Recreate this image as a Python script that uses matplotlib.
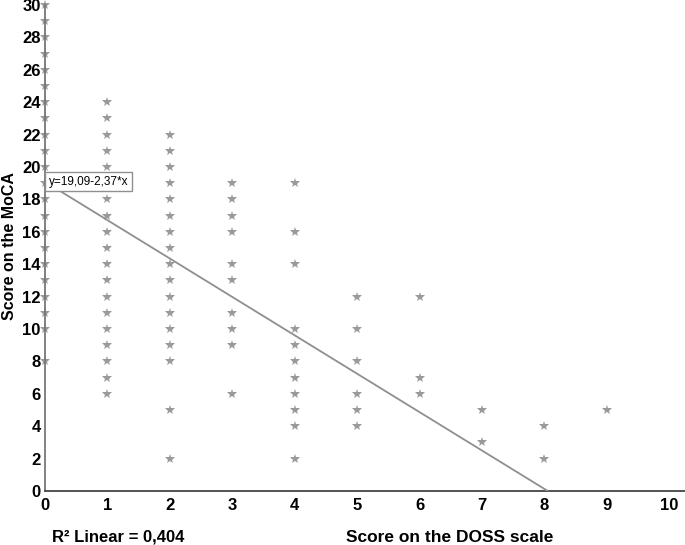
import numpy as np
import matplotlib.pyplot as plt

plt.rcParams['font.family'] = ['Liberation Sans', 'DejaVu Sans']

#Data, grouped by DOSS score
moca_by_doss = {
    0: [30, 29, 28, 27, 26, 25, 24, 23, 22, 21, 20, 19, 18, 17, 16, 15, 14, 13, 12, 11, 10, 8],
    1: [24, 23, 22, 21, 20, 19, 18, 17, 16, 15, 14, 13, 12, 11, 10, 9, 8, 7, 6],
    2: [22, 21, 20, 19, 18, 17, 16, 15, 14, 13, 12, 11, 10, 9, 8, 5, 2],
    3: [19, 18, 17, 16, 14, 13, 11, 10, 9, 6],
    4: [19, 16, 14, 10, 9, 8, 7, 6, 5, 4, 2],
    5: [12, 10, 8, 6, 5, 4],
    6: [12, 7, 6],
    7: [5, 3],
    8: [4, 2],
    9: [5],
}

intercept = 19.09
slope     = -2.37
r2_text   = '0,404'

doss = np.concatenate([[k] * len(v) for k, v in moca_by_doss.items()])
moca = np.concatenate([v for v in moca_by_doss.values()])

###Plot###
grey = '#8f8f8f'

fig = plt.figure(figsize=(6.85, 5.45), dpi=100)
ax = fig.add_axes([0.0657, 0.0991, 0.934, 0.8917])

ax.plot(doss, moca, linestyle='none', marker='*', markersize=7,
        color='#9a9a9a', markeredgewidth=0, clip_on=False, zorder=2)

x_end = -intercept / slope
x_fit = np.array([0, x_end])
ax.plot(x_fit, intercept + slope * x_fit, color=grey, linewidth=1.3, zorder=3)

ax.annotate('y=19,09-2,37*x', xy=(0, intercept), xytext=(2.5, 0),
            textcoords='offset points', ha='left', va='center', fontsize=8.5,
            bbox=dict(boxstyle='square,pad=0.3', fc='white', ec=grey, lw=1),
            zorder=5)

ax.set_xlim(0, 10.25)
ax.set_ylim(0, 30)
ax.set_xticks(range(0, 11))
ax.set_yticks(range(0, 31, 2))
ax.tick_params(length=0, labelsize=12, pad=3)
ax.tick_params(axis='x', pad=5)
for lbl in ax.get_xticklabels() + ax.get_yticklabels():
    lbl.set_fontweight('bold')

for side in ['top', 'right']:
    ax.spines[side].set_visible(False)
ax.spines['left'].set_color('#777777')
ax.spines['left'].set_linewidth(1.3)
ax.spines['bottom'].set_color('#444444')
ax.spines['bottom'].set_linewidth(1.3)

fig.text(10 / 685, 1 - 246 / 545, 'Score on the MoCA', fontsize=11.5,
         fontweight='bold', rotation=90, ha='center', va='center')
fig.text(450 / 685, 1 - 537 / 545, 'Score on the DOSS scale', fontsize=12.5,
         fontweight='bold', ha='center', va='center')
fig.text(52 / 685, 1 - 537 / 545, 'R\u00b2 Linear = ' + r2_text, fontsize=12,
         fontweight='bold', ha='left', va='center')

fig.savefig('out.png', dpi=100)
